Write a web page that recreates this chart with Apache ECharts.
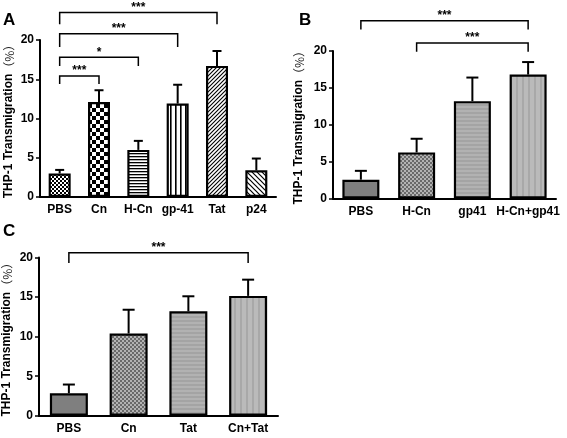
<!DOCTYPE html>
<html><head><meta charset="utf-8">
<script src="https://cdn.jsdelivr.net/npm/echarts@6/dist/echarts.min.js"></script>
<style>html,body{margin:0;padding:0;background:#fff}#c{width:567px;height:438px}</style>
</head><body><div id="c"></div>
<script>
// ---------- data ----------
const catsA = ['PBS', 'Cn', 'H-Cn', 'gp-41', 'Tat', 'p24'];
const meanA = [3.0, 12.1, 6.0, 11.9, 16.7, 3.4];
const semA  = [0.45, 1.5, 1.15, 2.4, 1.9, 1.5];
const catsB = ['PBS', 'H-Cn', 'gp41', 'H-Cn+gp41'];
const meanB = [2.55, 6.25, 13.2, 16.8];
const semB  = [1.2, 1.85, 3.2, 1.7];
const catsC = ['PBS', 'Cn', 'Tat', 'Cn+Tat'];
const meanC = [2.85, 10.4, 13.2, 15.15];
const semC  = [1.1, 3.0, 1.9, 2.05];
// significance brackets: [fromIndex, toIndex, bracketValue, endValue]
const bracketsA = [[0, 4, 23.5, 22.0], [0, 3, 20.8, 19.1], [0, 2, 17.8, 16.7], [0, 1, 15.4, 14.4]];
const starsA = ['***', '***', '*', '***'];
const bracketsB = [[0, 3, 24.1, 22.9], [1, 3, 21.1, 19.9]];
const starsB = ['***', '***'];
const bracketsC = [[0, 3, 20.6, 19.3]];
const starsC = ['***'];
const yTicks = [0, 5, 10, 15, 20];
const yTitle = 'THP-1 Transmigration{p|（%）}';
const panelLetters = ['A', 'B', 'C'];

// ---------- patterns ----------
function tile(w, h, draw) {
  const c = document.createElement('canvas'); c.width = w; c.height = h;
  const g = c.getContext('2d'); draw(g, w, h); return {image: c, repeat: 'repeat'};
}
const patFineChecker = tile(4, 4, (g) => { g.fillStyle = '#fff'; g.fillRect(0,0,4,4); g.fillStyle = '#000'; g.fillRect(0,0,2,2); g.fillRect(2,2,2,2); });
const patChecker = tile(8, 8, (g) => { g.fillStyle = '#fff'; g.fillRect(0,0,8,8); g.fillStyle = '#000'; g.fillRect(0,0,4,4); g.fillRect(4,4,4,4); });
const patHoriz = tile(1, 3, (g) => { g.fillStyle = '#fff'; g.fillRect(0,0,1,3); g.fillStyle = '#000'; g.fillRect(0,0,1,1.3); });
const patVert = tile(5, 1, (g) => { g.fillStyle = '#fff'; g.fillRect(0,0,5,1); g.fillStyle = '#000'; g.fillRect(0,0,1.6,1); });
const patDiagF = tile(4, 4, (g) => { g.fillStyle = '#fff'; g.fillRect(0,0,4,4); g.strokeStyle = '#000'; g.lineWidth = 1.1;
  g.beginPath(); g.moveTo(-1,5); g.lineTo(5,-1); g.moveTo(-1,1); g.lineTo(1,-1); g.moveTo(3,5); g.lineTo(5,3); g.stroke(); });
const patDiagB = tile(5, 5, (g) => { g.fillStyle = '#fff'; g.fillRect(0,0,5,5); g.strokeStyle = '#000'; g.lineWidth = 1.2;
  g.beginPath(); g.moveTo(-1,-1); g.lineTo(6,6); g.moveTo(4,-1); g.lineTo(6,1); g.moveTo(-1,4); g.lineTo(1,6); g.stroke(); });
const grayDark = '#7f7f7f';
const patGrayChecker = tile(4, 4, (g) => { g.fillStyle = '#b3b3b3'; g.fillRect(0,0,4,4); g.fillStyle = '#6a6a6a'; g.fillRect(0,0,2,2); g.fillRect(2,2,2,2); });
const patGrayHoriz = tile(1, 4, (g) => { g.fillStyle = '#b2b2b2'; g.fillRect(0,0,1,4); g.fillStyle = '#a4a4a4'; g.fillRect(0,0,1,2); });
const patGrayVert = tile(6, 1, (g) => { g.fillStyle = '#bababa'; g.fillRect(0,0,6,1); g.fillStyle = '#a8a8a8'; g.fillRect(0,0,2,1); });

const fillsA = [patFineChecker, patChecker, patHoriz, patVert, patDiagF, patDiagB];
const fillsB = [grayDark, patGrayChecker, patGrayHoriz, patGrayVert];
const fillsC = [grayDark, patGrayChecker, patGrayHoriz, patGrayVert];

// ---------- chart ----------
const FONT = '"Liberation Sans", Arial, "Noto Sans CJK SC", sans-serif';
const chart = echarts.init(document.getElementById('c'), null, {renderer: 'canvas'});

const grids = [
  {left: 40, top: 40, width: 236, height: 157},
  {left: 333, top: 51, width: 223, height: 147.5},
  {left: 39, top: 257.5, width: 239, height: 158.3}
];
const nameGaps = [25, 28, 26];

function xAxisFor(cats, gi) {
  return {type: 'category', gridIndex: gi, data: cats,
    axisLine: {lineStyle: {color: '#000', width: 2}},
    axisTick: {alignWithLabel: true, length: 4, lineStyle: {color: '#000', width: 1.5}},
    axisLabel: {interval: 0, color: '#000', fontWeight: 'bold', fontSize: 12, fontFamily: FONT, margin: 7}};
}
function yAxisFor(gi) {
  return {type: 'value', gridIndex: gi, min: yTicks[0], max: yTicks[yTicks.length - 1], interval: yTicks[1] - yTicks[0],
    splitLine: {show: false},
    axisLine: {show: true, lineStyle: {color: '#000', width: 2}},
    axisTick: {show: true, length: 4, lineStyle: {color: '#000', width: 1.5}},
    axisLabel: {color: '#000', fontWeight: 'bold', fontSize: 12, fontFamily: FONT, margin: 6},
    name: yTitle, nameLocation: 'middle', nameRotate: 90, nameGap: nameGaps[gi],
    nameTextStyle: {color: '#000', fontWeight: 'bold', fontSize: 12, fontFamily: FONT,
      rich: {p: {color: '#222', fontSize: 12, fontWeight: 'normal', fontFamily: '"Noto Sans CJK SC", sans-serif'}}}};
}
function barSeries(mean, fills, gi, bw) {
  return {type: 'bar', xAxisIndex: gi, yAxisIndex: gi, barWidth: bw,
    data: mean.map((v, i) => ({value: v, itemStyle: {color: fills[i]}})),
    itemStyle: {borderColor: '#000', borderWidth: 2.2}, animation: false, z: 2};
}
function errSeries(mean, sem, gi, cap) {
  return {type: 'custom', xAxisIndex: gi, yAxisIndex: gi, clip: false, z: 3, animation: false,
    encode: {x: 0, y: [1, 2]},
    data: mean.map((v, i) => [i, v, v + sem[i]]),
    renderItem: (params, api) => {
      const p0 = api.coord([api.value(0), api.value(1)]);
      const p1 = api.coord([api.value(0), api.value(2)]);
      return {type: 'group', children: [
        {type: 'line', shape: {x1: p0[0], y1: p0[1], x2: p1[0], y2: p1[1]}, style: {stroke: '#000', lineWidth: 2}},
        {type: 'line', shape: {x1: p1[0] - cap, y1: p1[1], x2: p1[0] + cap, y2: p1[1]}, style: {stroke: '#000', lineWidth: 2}}
      ]};
    }};
}
function bracketSeries(brs, labels, gi) {
  return {type: 'custom', xAxisIndex: gi, yAxisIndex: gi, clip: false, z: 4, animation: false,
    encode: {x: [0, 1], y: [2, 3]},
    data: brs,
    renderItem: (params, api) => {
      const a = api.coord([api.value(0), api.value(2)]);
      const b = api.coord([api.value(1), api.value(2)]);
      const ae = api.coord([api.value(0), api.value(3)]);
      const be = api.coord([api.value(1), api.value(3)]);
      return {type: 'group', children: [
        {type: 'polyline', shape: {points: [ae, a, b, be]}, style: {stroke: '#000', lineWidth: 1.5, fill: null}},
        {type: 'text', x: (a[0] + b[0]) / 2, y: a[1] + 1,
          style: {text: labels[params.dataIndex], fill: '#000', font: 'bold 12px ' + FONT, align: 'center', verticalAlign: 'bottom'}}
      ]};
    }};
}

const option = {
  backgroundColor: '#fff',
  animation: false,
  title: [
    {text: panelLetters[0], left: 3, top: 12, padding: 0, textStyle: {fontSize: 17, fontWeight: 'bold', color: '#000', fontFamily: FONT}},
    {text: panelLetters[1], left: 299, top: 12, padding: 0, textStyle: {fontSize: 17, fontWeight: 'bold', color: '#000', fontFamily: FONT}},
    {text: panelLetters[2], left: 3, top: 223, padding: 0, textStyle: {fontSize: 17, fontWeight: 'bold', color: '#000', fontFamily: FONT}}
  ],
  grid: grids,
  xAxis: [xAxisFor(catsA, 0), xAxisFor(catsB, 1), xAxisFor(catsC, 2)],
  yAxis: [yAxisFor(0), yAxisFor(1), yAxisFor(2)],
  series: [
    barSeries(meanA, fillsA, 0, 22), errSeries(meanA, semA, 0, 4.5), bracketSeries(bracketsA, starsA, 0),
    barSeries(meanB, fillsB, 1, 37), errSeries(meanB, semB, 1, 6), bracketSeries(bracketsB, starsB, 1),
    barSeries(meanC, fillsC, 2, 38), errSeries(meanC, semC, 2, 6), bracketSeries(bracketsC, starsC, 2)
  ]
};
chart.setOption(option);
</script>
</body></html>
